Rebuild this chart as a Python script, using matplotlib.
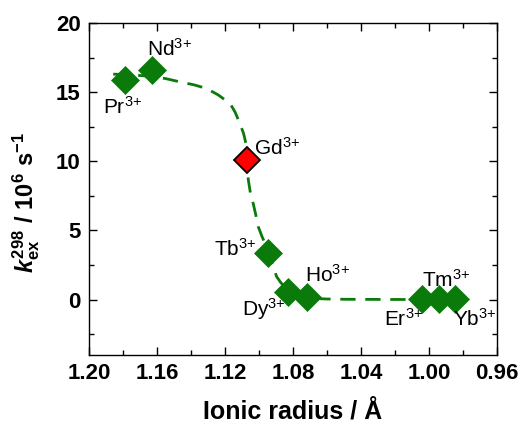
import matplotlib
matplotlib.use("Agg")
import matplotlib.pyplot as plt
from matplotlib.ticker import MultipleLocator

plt.rcParams['font.family'] = ['Liberation Sans', 'DejaVu Sans']
plt.rcParams['mathtext.fontset'] = 'custom'
plt.rcParams['mathtext.rm'] = 'Liberation Sans'
plt.rcParams['mathtext.it'] = 'Liberation Sans:italic:bold'
plt.rcParams['mathtext.bf'] = 'Liberation Sans:bold'

# data
ions = ['Pr', 'Nd', 'Gd', 'Tb', 'Dy', 'Ho', 'Er', 'Tm', 'Yb']
radius = [1.179, 1.163, 1.107, 1.0945, 1.083, 1.072, 1.004, 0.994, 0.9845]
kex = [15.86, 16.6, 10.1, 3.39, 0.56, 0.22, 0.02, 0.02, 0.02]

# dashed fit curve
fit_x = [1.1857, 1.175, 1.165, 1.155, 1.1465, 1.138, 1.1308, 1.124, 1.117, 1.1140, 1.1112,
         1.1090, 1.1075, 1.1068, 1.1063, 1.1050, 1.1034, 1.1018, 1.1004, 1.0980, 1.0955,
         1.0925, 1.0896, 1.0870, 1.0845, 1.0820, 1.0795, 1.0770, 1.0740, 1.0700, 1.0660,
         1.0600, 1.0500, 1.0300, 1.005]
fit_y = [16.30, 16.25, 16.15, 15.98, 15.74, 15.52, 15.26, 14.80, 14.18, 13.55, 12.73,
         12.00, 11.20, 10.10, 8.70, 7.70, 6.96, 6.10, 5.27, 4.50, 3.83,
         2.70, 1.66, 1.20, 0.90, 0.66, 0.48, 0.33, 0.21, 0.12, 0.07,
         0.04, 0.02, 0.01, 0.00]

label_pos = {  # text centres in data coordinates (x, y)
    'Pr': (1.1800, 13.9), 'Nd': (1.1524, 18.15), 'Gd': (1.0894, 11.0),
    'Tb': (1.1138, 3.7), 'Dy': (1.0971, -0.67), 'Ho': (1.0600, 1.78),
    'Er': (1.0147, -1.39), 'Tm': (0.9900, 1.46), 'Yb': (0.9730, -1.39),
}

fig = plt.figure(figsize=(5.29, 4.25), dpi=100)
ax = fig.add_axes([0.168, 0.165, 0.7715, 0.781])

green = '#0a7a0a'
ax.plot(fit_x, fit_y, color=green, lw=2.0, dashes=(5.5, 3.5), zorder=1)
for ion, r, k in zip(ions, radius, kex):
    if ion == 'Gd':
        ax.plot(r, k, marker='D', ms=13, mfc='#ff0000', mec='black', mew=1.3, ls='none', zorder=3)
    else:
        ax.plot(r, k, marker='D', ms=14, mfc=green, mec=green, mew=0.5, ls='none', zorder=3)
    tx, ty = label_pos[ion]
    ax.text(tx, ty, ion + r'$^{3{+}}$', fontsize=15, ha='center', va='center')

ax.set_xlim(1.20, 0.96)
ax.set_ylim(-4, 20)
ax.xaxis.set_minor_locator(MultipleLocator(0.02))
ax.yaxis.set_minor_locator(MultipleLocator(2.5))
ax.set_yticks([0, 5, 10, 15, 20])
ax.set_xticks([1.20, 1.16, 1.12, 1.08, 1.04, 1.00, 0.96])
ax.set_xticklabels(['1.20', '1.16', '1.12', '1.08', '1.04', '1.00', '0.96'])
ax.tick_params(which='both', direction='in', top=True, right=True, width=1)
ax.tick_params(which='major', length=6, labelsize=16, pad=6)
ax.tick_params(which='minor', length=3.5)
for lab in ax.get_xticklabels() + ax.get_yticklabels():
    lab.set_fontweight('bold')
for s in ax.spines.values():
    s.set_linewidth(1.0)

ax.set_xlabel('Ionic radius / Å', fontsize=18, fontweight='bold', labelpad=11)
ax.set_ylabel(r'$k_{\mathregular{ex}}^{\mathregular{298}}\mathregular{\ /\ 10^6\ s^{-1}}$',
              fontsize=17, fontweight='bold')
ax.yaxis.set_label_coords(-0.115, 0.46)

fig.savefig('out.png', dpi=100)
